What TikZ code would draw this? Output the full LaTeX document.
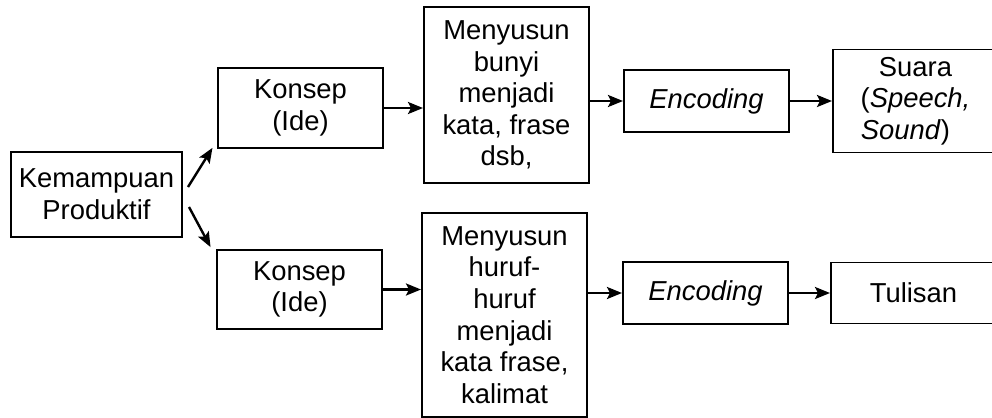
\documentclass[tikz,border=0pt]{standalone}
\usepackage{fontspec}
\setmainfont{Liberation Sans}
\usetikzlibrary{arrows.meta,
                positioning}
\tikzstyle{box} = [draw, line width=0.8pt, inner sep=0pt, outer sep=0pt, align=center, minimum width=82.5pt]
\tikzstyle{arrow} = [line width=1.2pt,->,>={Stealth[length=7.5pt,width=6pt,inset=1.5pt]},shorten >=0.5pt]

\begin{document}
\begin{tikzpicture}[font=\fontsize{13.7}{15.8}\selectfont]
    \useasboundingbox (0,0) rectangle (496pt,-209pt);

    \node[box, minimum width=85.5pt, minimum height=42.5pt] (kp) at (48.25pt,-97.25pt) {Kemampuan\\Produktif};

    % bunyi (atas)
    \node[box, minimum height=40pt] (k1)[above right=2pt and 18pt of kp] {Konsep\\(Ide)};
    \node[box, minimum height=88pt] (m1)[right=20.5pt of k1, yshift=6.5pt] {Menyusun\\bunyi\\menjadi\\kata, frase\\dsb,};
    \node[box, minimum height=31pt] (e1)[right=17.5pt of m1, yshift=-3pt] {\textit{Encoding}};
    \node[box, minimum height=51.5pt] (s1)[right=22pt of e1] {Suara\\(\textit{Speech,}\hspace*{10pt}\\\textit{Sound})\hspace*{10pt}};

    % tulisan (bawah)
    \node[box, minimum height=39.5pt] (k2)[below right=6.5pt and 17.5pt of kp] {Konsep\\(Ide)};
    \node[box, minimum height=102pt] (m2)[right=20pt of k2, yshift=-12.75pt] {Menyusun\\huruf-\\huruf\\menjadi\\kata frase,\\kalimat};
    \node[box, minimum height=31pt] (e2)[right=18pt of m2, yshift=11pt] {\textit{Encoding}};
    \node[box, minimum height=30.5pt] (t2)[right=21.5pt of e2] {Tulisan};

    \draw[arrow] ([xshift=3pt,yshift=3.75pt]kp.east) -- ([xshift=-2.5pt,yshift=0.5pt]k1.south west);
    \draw[arrow] ([xshift=3.5pt,yshift=-6.25pt]kp.east) -- ([xshift=-3pt,yshift=1pt]k2.north west);

    \draw[arrow] (k1.east) -- (k1.east -| m1.west);
    \draw[arrow] (m1.east |- e1.west) -- (e1.west);
    \draw[arrow] (e1.east) -- (e1.east -| s1.west);

    \draw[arrow] (k2.east) -- (k2.east -| m2.west);
    \draw[arrow] (m2.east |- e2.west) -- (e2.west);
    \draw[arrow] (e2.east) -- (t2.west);
\end{tikzpicture}
\end{document}
